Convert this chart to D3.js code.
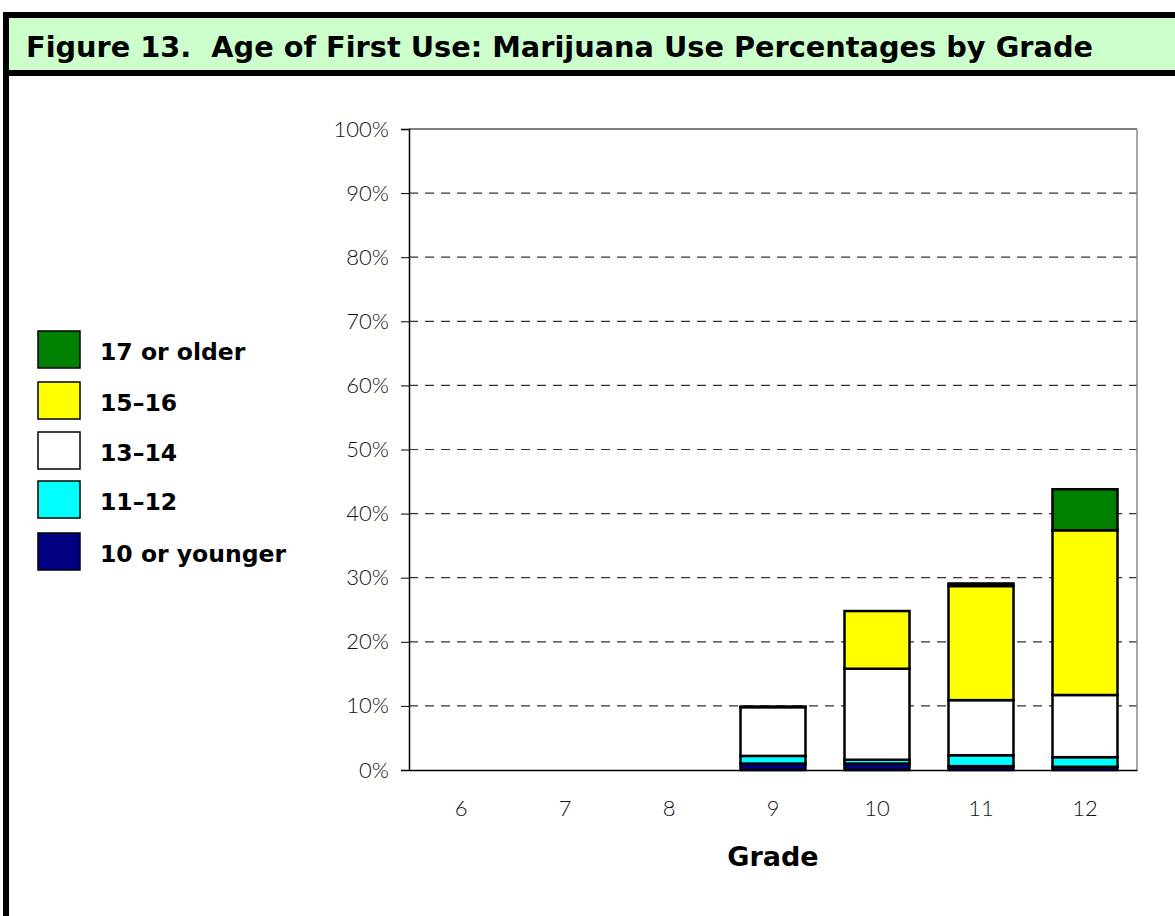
<!DOCTYPE html>
<html>
<head>
<meta charset="utf-8">
<script src="https://cdn.jsdelivr.net/npm/d3@7"></script>
<style>
  body { margin: 0; background: #fff; }
  svg { display: block; font-family: Lato, "Open Sans", sans-serif; }
</style>
</head>
<body>
<svg width="1175" height="916"></svg>
<script>
// data (percent of students)
var grades = ["6", "7", "8", "9", "10", "11", "12"];
var ageGroups = ["10 or younger", "11\u201312", "13\u201314", "15\u201316", "17 or older"];
var colors = ["#000080", "#00ffff", "#ffffff", "#ffff00", "#008000"];
var age10 = [0, 0, 0, 1.0, 1.0, 0.6, 0.5];
var age11 = [0, 0, 0, 1.2, 0.6, 1.7, 1.5];
var age13 = [0, 0, 0, 7.6, 14.2, 8.6, 9.7];
var age15 = [0, 0, 0, 0.1, 9.0, 17.8, 25.7];
var age17 = [0, 0, 0, 0, 0, 0.4, 6.4];
var yTicks = [0, 10, 20, 30, 40, 50, 60, 70, 80, 90, 100];

var svg = d3.select("svg");
var boldFont = "'DejaVu Sans', Verdana, sans-serif";
var thinFont = "Lato, 'Open Sans', sans-serif";

// frame + title band
svg.append("rect").attr("x", 3).attr("y", 12).attr("width", 1180).attr("height", 64).attr("fill", "#000");
svg.append("rect").attr("x", 9).attr("y", 18).attr("width", 1180).attr("height", 52).attr("fill", "#ccffcc");
svg.append("rect").attr("x", 3).attr("y", 12).attr("width", 6).attr("height", 910).attr("fill", "#000");
svg.append("text")
    .attr("x", 26).attr("y", 57)
    .attr("font-family", boldFont)
    .attr("font-size", 28).attr("font-weight", "bold")
    .attr("textLength", 1067).attr("lengthAdjust", "spacingAndGlyphs")
    .attr("xml:space", "preserve")
    .text("Figure 13.  Age of First Use: Marijuana Use Percentages by Grade");

var plotL = 409, plotR = 1137, plotT = 129, plotB = 770;

var x = d3.scaleBand().domain(grades).range([plotL, plotR]).paddingInner(0.375).paddingOuter(0.1875);
var y = d3.scaleLinear().domain([0, 100]).range([plotB, plotT]);

// grid
svg.append("g").selectAll("line")
  .data(yTicks.filter(function(d) { return d > 0 && d < 100; }))
  .enter().append("line")
    .attr("x1", plotL).attr("x2", plotR)
    .attr("y1", function(d) { return y(d); }).attr("y2", function(d) { return y(d); })
    .attr("stroke", "#333").attr("stroke-width", 1.2).attr("stroke-dasharray", "9,7");

svg.append("line").attr("x1", plotL).attr("x2", plotR).attr("y1", y(100)).attr("y2", y(100))
    .attr("stroke", "#000").attr("stroke-width", 1.2);
svg.append("line").attr("x1", plotR).attr("x2", plotR).attr("y1", y(100)).attr("y2", y(0))
    .attr("stroke", "#888").attr("stroke-width", 1.5);

// y axis
var yAxis = svg.append("g")
    .attr("transform", "translate(" + plotL + ",0)")
    .call(d3.axisLeft(y).tickValues(yTicks).tickFormat(function(d) { return d + "%"; })
      .tickSize(8).tickPadding(12));
yAxis.select(".domain").attr("stroke-width", 1.5);
yAxis.selectAll("text")
    .attr("font-family", thinFont)
    .attr("font-size", 22).attr("font-weight", 300).attr("fill", "#111");

// stacked bars
var rows = grades.map(function(g, i) {
  return {grade: g, a0: age10[i], a1: age11[i], a2: age13[i], a3: age15[i], a4: age17[i]};
});
var stack = d3.stack().keys(["a0", "a1", "a2", "a3", "a4"]);
var series = stack(rows);

svg.append("g").selectAll("g")
  .data(series)
  .enter().append("g")
    .attr("fill", function(d, i) { return colors[i]; })
  .selectAll("rect")
  .data(function(d) { return d.filter(function(s) { return s[1] - s[0] > 0; }); })
  .enter().append("rect")
    .attr("x", function(d) { return x(d.data.grade); })
    .attr("width", x.bandwidth())
    .attr("y", function(d) { return y(d[1]); })
    .attr("height", function(d) { return y(d[0]) - y(d[1]); })
    .attr("stroke", "#000").attr("stroke-width", 2.5);

// x axis
var xAxis = svg.append("g")
    .attr("transform", "translate(0," + plotB + ")")
    .call(d3.axisBottom(x).tickSize(0).tickPadding(30));
xAxis.select(".domain").attr("stroke-width", 1.5);
xAxis.selectAll("text")
    .attr("font-family", thinFont)
    .attr("font-size", 22).attr("font-weight", 300).attr("fill", "#111");

svg.append("text")
    .attr("x", (plotL + plotR) / 2).attr("y", 866)
    .attr("text-anchor", "middle")
    .attr("font-family", boldFont)
    .attr("font-size", 27).attr("font-weight", "bold")
    .text("Grade");

// legend (top to bottom: oldest first)
var legendY = [331, 382, 432, 481, 533];
var legend = svg.append("g").selectAll("g")
  .data(ageGroups.slice().reverse())
  .enter().append("g")
    .attr("transform", function(d, i) { return "translate(38," + legendY[i] + ")"; });

legend.append("rect")
    .attr("width", 42).attr("height", 37)
    .attr("fill", function(d, i) { return colors[colors.length - 1 - i]; })
    .attr("stroke", "#000").attr("stroke-width", 1.5);

legend.append("text")
    .attr("x", 62).attr("y", 29)
    .attr("font-family", boldFont)
    .attr("font-size", 23.5).attr("font-weight", "bold")
    .text(function(d) { return d; });
</script>
</body>
</html>
